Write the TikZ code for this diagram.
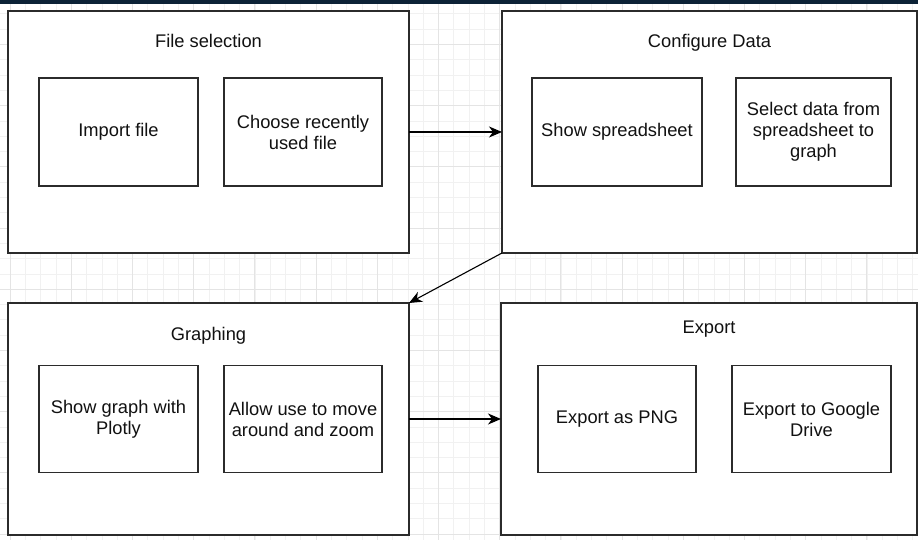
\documentclass[tikz,border=0pt]{standalone}
\usepackage{fontspec}
\setmainfont{Liberation Sans}
\usetikzlibrary{arrows.meta,positioning}
\definecolor{topbar}{HTML}{0C2236}
\definecolor{gridminor}{HTML}{F1F1F1}
\definecolor{gridmajor}{HTML}{E4E4E4}
\definecolor{edge}{HTML}{2B2B2B}
\definecolor{ink}{HTML}{111111}

\begin{document}
\begin{tikzpicture}[
    x=1pt, y=1pt,
    font=\fontsize{18.3}{21}\selectfont,
    stage/.style={rectangle, draw=edge, line width=1.3pt, fill=white, inner sep=0pt, outer sep=0pt},
    task/.style={rectangle, draw=edge, line width=1.1pt, fill=white, text=ink, align=center, inner sep=2pt, outer sep=0pt},
    title/.style={anchor=base, text=ink},
    link/.style={-{Stealth[length=13pt, width=11pt, inset=4pt]}, line width=1.1pt, draw=black}
]
\useasboundingbox (0,0) rectangle (918,540);

% background
\fill[white] (0,0) rectangle (918,540);
\begin{scope}
\clip (0,0) rectangle (918,536);
\begin{scope}[shift={(10,6)}]
\draw[gridminor, line width=0.6pt, step=15.3pt] (-20,-20) grid (930,560);
\draw[gridmajor, line width=0.7pt, step=61.2pt] (-70,-70) grid (930,560);
\end{scope}
\end{scope}
\fill[topbar] (0,536) rectangle (918,540);

% Stages
\node[stage, minimum width=401pt, minimum height=242pt] (filesel) at (208.5,408) {};
\node[stage, minimum width=415pt, minimum height=242pt, right=93pt of filesel] (config) {};
\node[stage, minimum width=401pt, minimum height=232pt, below=50pt of filesel] (graphing) {};
\node[stage, minimum width=416pt, minimum height=232pt, right=92pt of graphing] (export) {};

% Stage titles
\node[title] (fileselTitle) at ([yshift=-37pt]filesel.north) {File selection};
\node[title] (configTitle) at ([yshift=-37pt]config.north) {Configure Data};
\node[title] (graphingTitle) at ([yshift=-38pt]graphing.north) {Graphing};
\node[title] (exportTitle) at ([yshift=-31pt]export.north) {Export};

% Tasks
\node[task, minimum width=159pt, minimum height=108pt, anchor=west] (import) at ([xshift=31pt]filesel.west) {Import file};
\node[task, minimum width=158pt, minimum height=108pt, right=26pt of import] (recent) {Choose recently\\used file};

\node[task, minimum width=170pt, minimum height=108pt, anchor=west] (sheet) at ([xshift=30pt]config.west) {Show spreadsheet};
\node[task, minimum width=155pt, minimum height=108pt, right=34pt of sheet] (select) {Select data from\\spreadsheet to\\graph};

\node[task, minimum width=159pt, minimum height=107pt, anchor=west] (plotly) at ([xshift=31pt]graphing.west) {Show graph with\\Plotly};
\node[task, minimum width=158pt, minimum height=107pt, right=26pt of plotly] (zoom) {Allow use to move\\around and zoom};

\node[task, minimum width=158pt, minimum height=107pt, anchor=west] (png) at ([xshift=37pt]export.west) {Export as PNG};
\node[task, minimum width=159pt, minimum height=107pt, right=36pt of png] (drive) {Export to Google\\Drive};

% Arrows
\draw[link] (filesel) -- (config);
\draw[link] (config.south west) -- (graphing.north east);
\draw[link] (graphing) -- (export);

\end{tikzpicture}
\end{document}
